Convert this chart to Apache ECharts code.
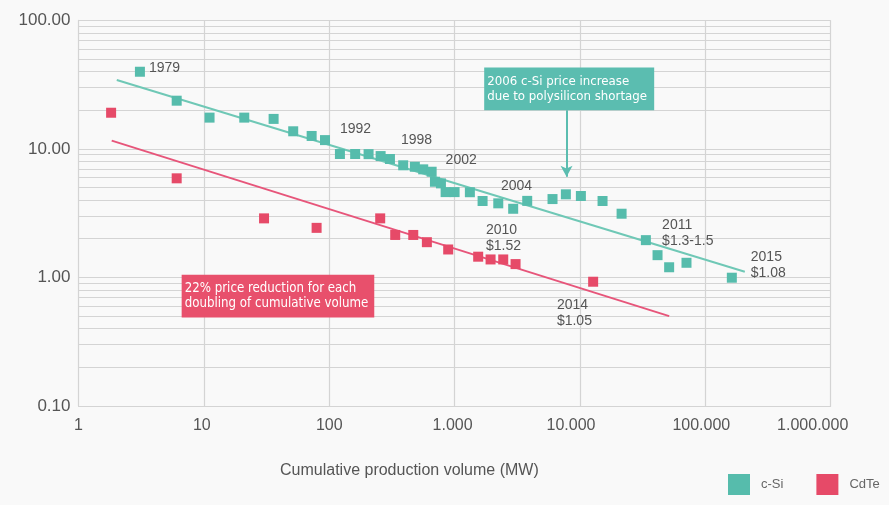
<!DOCTYPE html>
<html><head><meta charset="utf-8">
<script src="https://cdn.jsdelivr.net/npm/echarts@6/dist/echarts.min.js"></script>
<style>html,body{margin:0;padding:0;background:#f9f9f9}#c{width:889px;height:505px}</style>
</head><body><div id="c"></div>
<script>
// ---------- data ----------
const xTickLabels = ['1', '10', '100', '1.000', '10.000', '100.000', '1.000.000'];
const yTickLabels = ['0.10', '1.00', '10.00', '100.00'];
const seriesNames = ['c-Si', 'CdTe'];
const xAxisTitle = 'Cumulative production volume (MW)';

const csiVolume = [3.09, 6.07, 11.1, 21.0, 36, 51.6, 72.4, 92.5, 121.7, 161, 206, 257, 305, 389, 482, 562, 656, 697, 778, 848,
  1000, 1324, 1672, 2230, 2933, 3795, 6040, 7720, 10170, 15140, 21480, 33550, 41570, 51450, 70750, 162700];
const csiPrice = [39.8, 23.7, 17.5, 17.5, 17.1, 13.7, 12.6, 11.7, 9.12, 9.12, 9.1, 8.79, 8.34, 7.45, 7.26, 6.93, 6.64, 5.55, 5.39, 4.61,
  4.61, 4.6, 3.93, 3.77, 3.42, 3.94, 4.07, 4.43, 4.30, 3.93, 3.13, 1.95, 1.49, 1.20, 1.30, 0.995];

const cdteVolume = [1.82, 6.07, 30.2, 79.3, 255, 336, 468, 601, 889, 1542, 1936, 2443, 3064, 12740];
const cdtePrice = [19.1, 5.90, 2.88, 2.43, 2.88, 2.14, 2.14, 1.88, 1.65, 1.45, 1.38, 1.38, 1.27, 0.926];

const csiTrendVolume = [2.02, 206500];
const csiTrendPrice = [34.3, 1.107];
const cdteTrendVolume = [1.84, 51500];
const cdteTrendPrice = [11.6, 0.50];

// annotation texts and their anchor (data space: volume, price)
const yearLabels = [
  { text: '1979', at: [3.65, 42.8] },
  { text: '1992', at: [121.7, 14.3] },
  { text: '1998', at: [373, 11.6] },
  { text: '2002', at: [848, 8.18] },
  { text: '2004', at: [2340, 5.16] },
  { text: '2010\n$1.52', at: [1778, 2.02] },
  { text: '2011\n$1.3-1.5', at: [45200, 2.21] },
  { text: '2015\n$1.08', at: [230500, 1.24] },
  { text: '2014\n$1.05', at: [6545, 0.529] }
];
const csiNote = { text: '2006 c-Si price increase\ndue to polysilicon shortage', at: [1722, 29.3] };
const csiArrow = { from: [7816, 20.0], to: [7816, 6.07] };
const cdteNote = { text: '22% price reduction for each\ndoubling of cumulative volume', at: [6.65, 0.715] };

// ---------- styles ----------
const TEAL = '#56bcac', RED = '#e64a68';
const TEAL_LINE = '#6fc8b6', RED_LINE = '#e7557a';
const TEAL_BOX = '#5bbdb0', RED_BOX = '#e8506c';
const GRID = '#d4d4d4';
const FONT = "'Liberation Sans', Arial, sans-serif";
const xLabelShift = [0, -2, 0, -2, -9, -4, -18];

// fit note font so text matches box width
function fitFont(lines, target, family) {
  const ctx = document.createElement('canvas').getContext('2d');
  ctx.font = '20px ' + family;
  const w = Math.max(...lines.map(l => ctx.measureText(l).width));
  return 20 * target / w;
}
const NOTE_FONT = "'Liberation Sans Narrow', 'DejaVu Sans Condensed', 'Liberation Sans', sans-serif";
const tealFont = fitFont(csiNote.text.split('\n'), 160, NOTE_FONT);
const redFont = fitFont(cdteNote.text.split('\n'), 184, NOTE_FONT);

const zip = (a, b) => a.map((v, i) => [v, b[i]]);

const minorY = [];
[0.1, 1, 10].forEach(d => { for (let k = 2; k <= 9; k++) minorY.push(+(d * k).toPrecision(3)); });

const xRich = {};
xLabelShift.forEach((s, i) => { xRich['r' + i] = { fontSize: 16, color: '#555', fontFamily: FONT, padding: [0, -2 * s, 0, 0] }; });

const chart = echarts.init(document.getElementById('c'), null, { renderer: 'canvas' });
chart.setOption({
  backgroundColor: '#f9f9f9',
  animation: false,
  title: {
    text: xAxisTitle, left: 275, top: 458,
    textStyle: { fontSize: 16, fontWeight: 'normal', color: '#555', fontFamily: FONT }
  },
  legend: {
    data: seriesNames, left: 723, top: 469, icon: 'rect', itemWidth: 22, itemHeight: 21, itemGap: 33,
    selectedMode: false,
    textStyle: { fontSize: 13, color: '#666', fontFamily: FONT, padding: [0, 0, 0, 6] }
  },
  grid: { left: 78.5, right: 58.3, top: 20.3, bottom: 99, containLabel: false },
  xAxis: {
    type: 'log', logBase: 10, min: 1, max: 1000000,
    axisLine: { show: true, lineStyle: { color: GRID } },
    axisTick: { show: false },
    splitLine: { show: true, lineStyle: { color: GRID, width: 1.2 } },
    axisLabel: {
      margin: 12, interval: 0,
      formatter: v => { const i = Math.round(Math.log10(v)); return '{r' + i + '|' + xTickLabels[i] + '}'; },
      rich: xRich
    }
  },
  yAxis: {
    type: 'log', logBase: 10, min: 0.1, max: 100,
    axisLine: { show: true, lineStyle: { color: GRID } },
    axisTick: { show: false },
    splitLine: { show: true, lineStyle: { color: GRID, width: 1.2 } },
    axisLabel: {
      margin: 8, fontSize: 17, color: '#555', fontFamily: FONT,
      formatter: v => yTickLabels[Math.round(Math.log10(v)) + 1]
    }
  },
  series: [
    {
      name: 'minor-grid', type: 'line', data: [], silent: true, z: 0,
      markLine: {
        z: 0, silent: true, symbol: 'none', animation: false, label: { show: false },
        lineStyle: { color: GRID, width: 1.2, type: 'solid' },
        emphasis: { disabled: true },
        data: minorY.map(v => ({ yAxis: v }))
      }
    },
    {
      name: 'c-Si trend', type: 'line', data: zip(csiTrendVolume, csiTrendPrice), symbol: 'none', silent: true, z: 2,
      lineStyle: { color: TEAL_LINE, width: 2 }
    },
    {
      name: 'CdTe trend', type: 'line', data: zip(cdteTrendVolume, cdteTrendPrice), symbol: 'none', silent: true, z: 2,
      lineStyle: { color: RED_LINE, width: 2 }
    },
    {
      name: seriesNames[0], type: 'scatter', data: zip(csiVolume, csiPrice), symbol: 'rect', symbolSize: 10, z: 3,
      itemStyle: { color: TEAL, opacity: 1 }
    },
    {
      name: seriesNames[1], type: 'scatter', data: zip(cdteVolume, cdtePrice), symbol: 'rect', symbolSize: 10, z: 3,
      itemStyle: { color: RED, opacity: 1 }
    },
    {
      name: 'notes', type: 'scatter', data: [], silent: true, z: 5,
      markLine: {
        z: 5, silent: true, symbol: ['none', 'arrow'], symbolSize: [9, 11], label: { show: false },
        lineStyle: { color: TEAL_BOX, width: 2, type: 'solid' },
        emphasis: { disabled: true },
        data: [[{ coord: csiArrow.from }, { coord: csiArrow.to }]]
      },
      markPoint: {
        z: 6, silent: true, symbol: 'rect', symbolSize: 1, itemStyle: { color: 'rgba(0,0,0,0)' },
        emphasis: { disabled: true },
        data: yearLabels.map(l => ({
          coord: l.at,
          label: {
            show: true, position: 'inside', align: 'left', verticalAlign: 'middle',
            formatter: l.text, color: '#555', fontSize: 14, lineHeight: 16, fontFamily: FONT
          }
        })).concat([
          {
            coord: csiNote.at,
            label: {
              show: true, position: 'inside', align: 'left', verticalAlign: 'middle',
              formatter: csiNote.text, color: '#fff', fontSize: tealFont, lineHeight: 15.4, fontFamily: NOTE_FONT,
              backgroundColor: TEAL_BOX, padding: [6, 4, 6, 3], width: 163
            }
          },
          {
            coord: cdteNote.at,
            label: {
              show: true, position: 'inside', align: 'left', verticalAlign: 'middle',
              formatter: cdteNote.text, color: '#fff', fontSize: redFont, lineHeight: 14.3, fontFamily: NOTE_FONT,
              backgroundColor: RED_BOX, padding: [7, 3, 7, 3], width: 186.6
            }
          }
        ])
      }
    }
  ]
});
</script></body></html>
